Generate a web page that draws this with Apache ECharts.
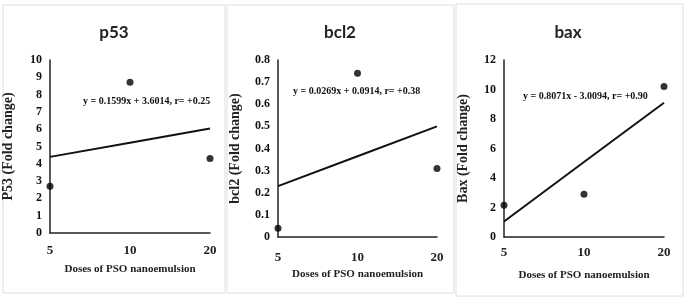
<!DOCTYPE html>
<html>
<head>
<meta charset="utf-8">
<script src="https://cdn.jsdelivr.net/npm/echarts@6/dist/echarts.min.js"></script>
<style>
html,body{margin:0;padding:0;background:#fff;}
#chart{width:685px;height:301px;}
</style>
</head>
<body>
<div id="chart"></div>
<script>
// x categories (doses), shared by the three panels
var doses = ['5', '10', '20'];

// p53
var p53Points = [2.7, 8.72, 4.3];
var p53Trend = [4.4, 5.22, 6.04];
// bcl2
var bcl2Points = [0.04, 0.74, 0.31];
var bcl2Trend = [0.23, 0.365, 0.5];
// bax
var baxPoints = [2.15, 2.9, 10.2];
var baxTrend = [1.05, 5.08, 9.1];

var titles = ['p53', 'bcl2', 'bax'];
var yNames = ['P53 (Fold change)', 'bcl2 (Fold change)', 'Bax (Fold change)'];
var equations = [
	'y = 0.1599x + 3.6014, r= +0.25',
	'y = 0.0269x + 0.0914, r= +0.38',
	'y = 0.8071x - 3.0094, r= +0.90'
];
var yMax = [10, 0.8, 12];
var yStep = [1, 0.1, 2];

var serif = '"Liberation Serif", "Times New Roman", serif';

var myChart = echarts.init(document.getElementById('chart'));

// grid boxes for each panel
var grids = [
	{left: 50, top: 60, width: 160, height: 173},
	{left: 278, top: 60, width: 159, height: 177},
	{left: 504, top: 60, width: 160, height: 177}
];
var xLabelMargin = [11, 14, 9];
var xNameGap = [31, 25, 33];
var yNameGap = [35, 36, 34];

var xAxes = [], yAxes = [];
for (var i = 0; i < 3; i++) {
	xAxes.push({
		gridIndex: i,
		type: 'category',
		data: doses,
		boundaryGap: false,
		name: 'Doses of PSO nanoemulsion',
		nameLocation: 'middle',
		nameGap: xNameGap[i],
		nameTextStyle: {fontFamily: serif, fontWeight: 'bold', fontSize: 11, color: '#222'},
		axisLine: {lineStyle: {color: '#222', width: 1.5}},
		axisTick: {show: false},
		axisLabel: {fontFamily: serif, fontWeight: 'bold', fontSize: 13, color: '#222', margin: xLabelMargin[i]},
		splitLine: {show: false}
	});
	yAxes.push({
		gridIndex: i,
		type: 'value',
		min: 0,
		max: yMax[i],
		interval: yStep[i],
		name: yNames[i],
		nameLocation: 'middle',
		nameGap: yNameGap[i],
		nameTextStyle: {fontFamily: serif, fontWeight: 'bold', fontSize: 14, color: '#222'},
		axisLine: {show: true, lineStyle: {color: '#222', width: 1.5}},
		axisTick: {show: false},
		axisLabel: {fontFamily: serif, fontWeight: 'bold', fontSize: 12, color: '#111', margin: 8},
		splitLine: {show: false}
	});
}

var pointSets = [p53Points, bcl2Points, baxPoints];
var trendSets = [p53Trend, bcl2Trend, baxTrend];
var series = [];
for (var j = 0; j < 3; j++) {
	series.push({
		type: 'line',
		xAxisIndex: j,
		yAxisIndex: j,
		data: trendSets[j],
		showSymbol: false,
		lineStyle: {color: '#111', width: 2},
		silent: true
	});
	series.push({
		type: 'scatter',
		xAxisIndex: j,
		yAxisIndex: j,
		data: pointSets[j],
		symbolSize: 7,
		itemStyle: {color: '#000'}
	});
}

// panel frames and the equation labels
var frames = [
	{x: 3, y: 5, w: 222, h: 288},
	{x: 227, y: 5, w: 227, h: 288},
	{x: 456, y: 4, w: 227, h: 292}
];
var eqPos = [[83, 101], [293, 91], [523, 96]];
var titleX = [114, 340, 568];
var graphic = [];
frames.forEach(function(f){
	graphic.push({
		type: 'rect',
		z: -10,
		shape: {x: f.x, y: f.y, width: f.w, height: f.h},
		style: {fill: '#fff', stroke: '#dedede', lineWidth: 1}
	});
});
equations.forEach(function(t, k){
	graphic.push({
		type: 'text',
		x: eqPos[k][0],
		y: eqPos[k][1],
		style: {text: t, font: 'bold 10px ' + serif, fill: '#111', textVerticalAlign: 'middle'}
	});
});
titles.forEach(function(t, k){
	graphic.push({
		type: 'text',
		x: titleX[k],
		y: 33,
		style: {text: t, font: 'bold 17px Lato, "Open Sans", sans-serif', fill: '#222', textAlign: 'center', textVerticalAlign: 'middle'}
	});
});

var option = {
	backgroundColor: '#fff',
	animation: false,
	grid: grids,
	xAxis: xAxes,
	yAxis: yAxes,
	series: series,
	graphic: graphic
};
myChart.setOption(option);
</script>
</body>
</html>
